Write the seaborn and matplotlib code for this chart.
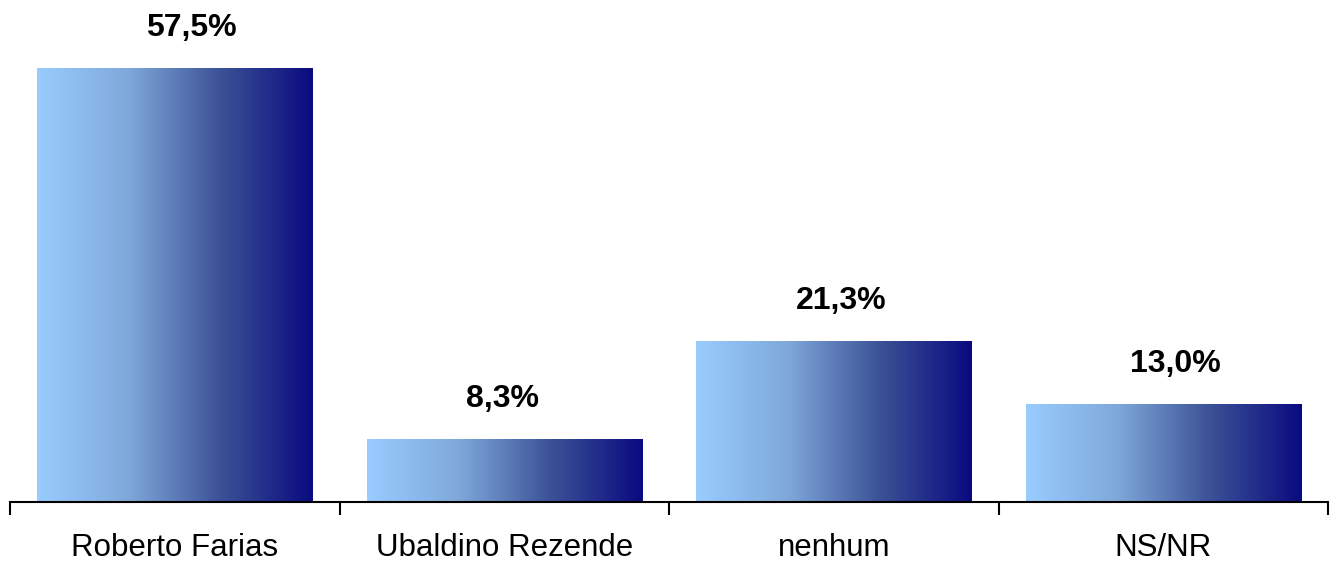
import numpy as np
import matplotlib
matplotlib.use("Agg")
import matplotlib.pyplot as plt
import seaborn as sns
from matplotlib.colors import LinearSegmentedColormap

categories = ["Roberto Farias", "Ubaldino Rezende", "nenhum", "NS/NR"]
values = [57.5, 8.3, 21.3, 13.0]
labels = ["57,5%", "8,3%", "21,3%", "13,0%"]
label_nudge_pt = [12, -1.5, 5, 9]  # small horizontal label shifts seen in the reference

sns.set_theme(style="white")
plt.rcParams['font.family'] = ['Liberation Sans', 'DejaVu Sans']

fig = plt.figure(figsize=(13.31, 5.64), dpi=100)
ax = fig.add_axes([10/1331, 1 - 502/564, 1318/1331, 502/564])

sns.barplot(x=categories, y=values, ax=ax, color="#99CCFF", width=0.835, saturation=1)

cmap = LinearSegmentedColormap.from_list("g", ["#99CCFF", "#7FA8DA", "#3B5296", "#0A0A80"])
grad = np.linspace(0, 1, 256).reshape(1, -1)
for p in ax.patches:
    x0, y0 = p.get_x(), p.get_y()
    w, h = p.get_width(), p.get_height()
    im = ax.imshow(grad, cmap=cmap, aspect="auto", extent=[x0, x0 + w, y0, y0 + h],
                   interpolation="bicubic", zorder=p.get_zorder() + 0.1)
    im.set_clip_path(p)

for i, (v, lab, dx) in enumerate(zip(values, labels, label_nudge_pt)):
    ax.annotate(lab, (i, v), xytext=(dx, 23), textcoords="offset points",
                ha="center", va="baseline", fontsize=23, fontweight="bold", color="black")

ax.set_xlim(-0.5, 3.5)
ax.set_ylim(0, 66.5)
ax.set_yticks([])
for s in ["top", "right", "left"]:
    ax.spines[s].set_visible(False)
ax.spines["bottom"].set_linewidth(1.5)
ax.spines["bottom"].set_color("black")
ax.set_xticks([0, 1, 2, 3])
ax.set_xticklabels(categories, fontsize=22.5, color="black")
ax.set_xticks([-0.5, 0.5, 1.5, 2.5, 3.5], minor=True)
ax.tick_params(axis="x", which="major", length=0, pad=22, labelcolor="black")
ax.tick_params(axis="x", which="minor", length=9, width=1.5, direction="out", color="black", bottom=True)
ax.set_xlabel("")
ax.set_ylabel("")

fig.savefig("out.png", dpi=100)
